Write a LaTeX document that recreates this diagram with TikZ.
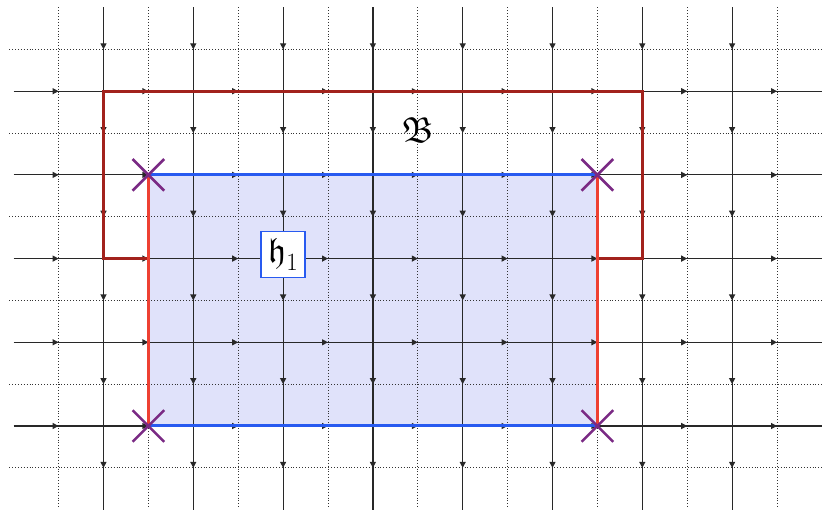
\documentclass[tikz,border=0pt]{standalone}
\usepackage{amssymb}
\usetikzlibrary{decorations.markings,arrows.meta,shapes.misc}
\definecolor{bdark}{RGB}{162,34,28}
\definecolor{hred}{RGB}{238,64,50}
\definecolor{hblue}{RGB}{40,90,240}
\definecolor{hfill}{RGB}{224,226,250}
\definecolor{xpurple}{RGB}{122,42,132}
\definecolor{gridc}{RGB}{40,40,40}
\tikzset{
  edge/.style={draw=gridc, line width=1.2pt, postaction={decorate},
    decoration={markings, mark=at position 0.5 with {\arrow{Triangle[length=6pt,width=6pt]}}}},
  dual/.style={draw=black!80, line width=0.9pt, dotted},
  bline/.style={draw=bdark, line width=3pt, line join=miter},
  hside/.style={draw=hred, line width=3pt},
  htop/.style={draw=hblue, line width=3pt},
  xmark/.style={cross out, draw=xpurple, line width=2.6pt, minimum size=29pt, inner sep=0pt},
  hlabel/.style={draw=hblue, line width=1.4pt, fill=white, inner xsep=7pt, inner ysep=7pt, font=\fontsize{35}{40}\selectfont},
  blabel/.style={font=\fontsize{36}{40}\selectfont, inner sep=0pt},
}
\begin{document}
\begin{tikzpicture}[x=89.8pt, y=-83.7pt]
\useasboundingbox (-1.1526,-1.0896) rectangle (8.1013,5.1470);
% shaded region h1
\coordinate (hTL) at (0.5,1);
\coordinate (hTR) at (5.5,1);
\coordinate (hBL) at (0.5,4);
\coordinate (hBR) at (5.5,4);
\fill[hfill] (hTL) rectangle (hBR);
% dual lattice (dotted)
\foreach \k in {0,...,8} {
  \coordinate (dvT\k) at ({\k-0.5},-1);
  \coordinate (dvB\k) at ({\k-0.5},4.98);
  \draw[dual] (dvT\k) -- (dvB\k);
}
\foreach \k in {0,...,5} {
  \coordinate (dhL\k) at (-1.05,{\k-0.5});
  \coordinate (dhR\k) at (8,{\k-0.5});
  \draw[dual] (dhL\k) -- (dhR\k);
}
% lattice vertices
\foreach \i in {0,...,9} {
  \foreach \j in {0,...,6} {
    \coordinate (p-\i-\j) at ({\i-1},{\j-1});
  }
}
% horizontal edges
\foreach \j in {1,...,5} {
  \foreach \i [evaluate=\i as \ip using int(\i+1)] in {0,...,8} {
    \draw[edge] (p-\i-\j) -- (p-\ip-\j);
  }
}
% vertical edges
\foreach \i in {1,...,8} {
  \foreach \j [evaluate=\j as \jp using int(\j+1)] in {0,...,5} {
    \draw[edge] (p-\i-\j) -- (p-\i-\jp);
  }
}
% region B outline
\coordinate (bA) at (0.5,2);
\coordinate (bF) at (5.5,2);
\draw[bline] (bA) -- (p-1-3) -- (p-1-1) -- (p-7-1) -- (p-7-3) -- (bF);
% h1 rectangle sides
\draw[hside] (hTL) -- (hBL);
\draw[hside] (hTR) -- (hBR);
\draw[htop] (hTL) -- (hTR);
\draw[htop] (hBL) -- (hBR);
% crosses
\node[xmark] (x1) at (hTL) {};
\node[xmark] (x2) at (hTR) {};
\node[xmark] (x3) at (hBL) {};
\node[xmark] (x4) at (hBR) {};
% labels
\node[blabel] (B) at (3.5,0.46) {$\mathfrak{B}$};
\node[hlabel] (h1) at (2,1.95) {$\mathfrak{h}_1$};
\end{tikzpicture}
\end{document}
